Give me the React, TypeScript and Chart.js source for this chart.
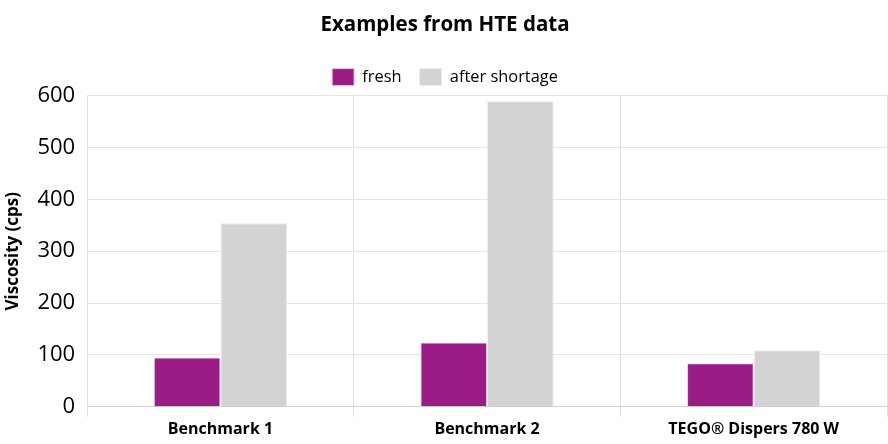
import React, { useEffect, useRef } from 'react';
import { Chart, registerables } from 'chart.js';

Chart.register(...registerables);

// Data
const categories = ['Benchmark 1', 'Benchmark 2', 'TEGO® Dispers 780 W'];
const freshValues = [95, 124, 84];
const afterShortageValues = [354, 589, 109];
const yTicks = [0, 100, 200, 300, 400, 500, 600];

const FONT = '"Open Sans", "Noto Sans", sans-serif';

const App: React.FC = () => {
  const canvasRef = useRef<HTMLCanvasElement | null>(null);
  const chartRef = useRef<Chart | null>(null);

  useEffect(() => {
    document.body.style.margin = '0';
    if (!canvasRef.current) return;
    const ctx = canvasRef.current.getContext('2d');
    if (!ctx) return;

    chartRef.current = new Chart(ctx, {
      type: 'bar',
      data: {
        labels: categories,
        datasets: [
          {
            label: 'fresh',
            data: freshValues,
            backgroundColor: '#9b1c87',
            borderColor: '#e6d0e2',
            borderWidth: 1,
            categoryPercentage: 0.5,
            barPercentage: 1.0,
          },
          {
            label: 'after shortage',
            data: afterShortageValues,
            backgroundColor: '#d3d3d3',
            borderColor: '#ececec',
            borderWidth: 1,
            categoryPercentage: 0.5,
            barPercentage: 1.0,
          },
        ],
      },
      options: {
        responsive: true,
        maintainAspectRatio: false,
        animation: false,
        layout: { padding: { left: 3, right: 1, top: 8, bottom: 2 } },
        plugins: {
          title: {
            display: true,
            text: 'Examples from HTE data',
            color: '#000',
            font: { family: FONT, size: 20.5, weight: 'bold' },
            padding: { top: 5, bottom: 13 },
          },
          legend: {
            position: 'top',
            labels: {
              color: '#000',
              boxWidth: 22,
              boxHeight: 17,
              padding: 18,
              font: { family: FONT, size: 16.4 },
            },
          },
          tooltip: { enabled: false },
        },
        scales: {
          x: {
            grid: {
              color: '#e0e0e0',
              offset: true,
              tickLength: 10,
            },
            border: { color: '#d0d0d0' },
            ticks: {
              color: '#000',
              font: { family: FONT, size: 16, weight: 'bold' },
              padding: 3,
            },
          },
          y: {
            min: 0,
            max: 600,
            afterBuildTicks: (axis) => {
              axis.ticks = yTicks.map((v) => ({ value: v }));
            },
            title: {
              display: true,
              text: 'Viscosity (cps)',
              color: '#000',
              font: { family: FONT, size: 17, weight: 'bold' },
              padding: { top: 0, bottom: 2 },
            },
            grid: { color: '#e4e4e4', drawTicks: false },
            border: { display: false },
            ticks: {
              color: '#000',
              font: { family: FONT, size: 22 },
              padding: 12,
            },
          },
        },
      },
    });

    return () => {
      if (chartRef.current) {
        chartRef.current.destroy();
        chartRef.current = null;
      }
    };
  }, []);

  return (
    <div style={{ position: 'relative', width: 888, height: 444, background: '#fff' }}>
      <canvas ref={canvasRef} />
    </div>
  );
};

export default App;
